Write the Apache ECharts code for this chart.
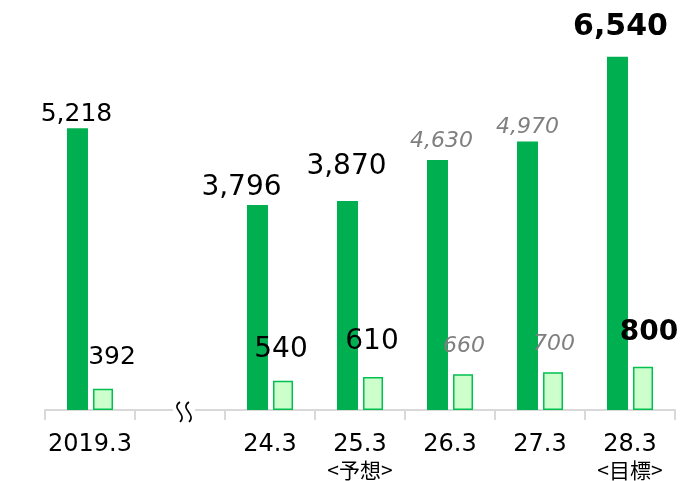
<!DOCTYPE html>
<html>
<head>
<meta charset="utf-8">
<script src="https://cdn.jsdelivr.net/npm/echarts@6/dist/echarts.min.js"></script>
<style>
html,body{margin:0;padding:0;background:#fff;}
#c{width:683px;height:481px;}
</style>
</head>
<body>
<div id="c"></div>
<script>
// ---- data ----
var categories = ['2019.3', '', '24.3', '25.3', '26.3', '27.3', '28.3'];
var subLabels = ['', '', '', '<予想>', '', '', '<目標>'];
var sales = [5218, '-', 3796, 3870, 4630, 4970, 6540];
var profit = [392, '-', 540, 610, 660, 700, 800];

// ---- label styling (kept separate from data) ----
var FONT = '"DejaVu Sans", Verdana, sans-serif';
var styleNormalS = {fontSize: 25, color: '#000', fontStyle: 'normal', fontWeight: 'normal'};
var styleNormalL = {fontSize: 28, color: '#000', fontStyle: 'normal', fontWeight: 'normal'};
var styleGray = {fontSize: 22, color: '#7f7f7f', fontStyle: 'italic', fontWeight: 'normal'};
var styleBold = {fontSize: 30, color: '#000', fontStyle: 'normal', fontWeight: 'bold'};
var styleBoldS = {fontSize: 28, color: '#000', fontStyle: 'normal', fontWeight: 'bold'};

// [style, dx, gapAboveBarTopToLabelCenter]
var salesLabelCfg = [
  [styleNormalS, -1, 14], null, [styleNormalL, -16, 17], [styleNormalL, -1, 34],
  [styleGray, 4, 19], [styleGray, 0, 14], [styleBold, 3, 30]
];
var profitLabelCfg = [
  [styleNormalS, 9, 31], null, [styleNormalL, -2, 31], [styleNormalL, -1, 35],
  [styleGray, 1, 28], [styleGray, 1, 28], [styleBoldS, 6, 34]
];

function fmt(v) {
  return String(v).replace(/\B(?=(\d{3})+(?!\d))/g, ',');
}
function buildData(values, cfg) {
  return values.map(function (v, i) {
    if (v === '-' || !cfg[i]) return {value: '-'};
    var s = cfg[i][0];
    return {
      value: v,
      label: {
        show: true,
        position: 'top',
        distance: 0,
        fontFamily: FONT,
        fontSize: s.fontSize,
        lineHeight: s.fontSize,
        color: s.color,
        fontStyle: s.fontStyle,
        fontWeight: s.fontWeight,
        offset: [cfg[i][1], -(cfg[i][2] - s.fontSize / 2)],
        formatter: function (p) { return fmt(p.value); }
      }
    };
  });
}

var chart = echarts.init(document.getElementById('c'));
var option = {
  animation: false,
  backgroundColor: '#ffffff',
  grid: {left: 45, right: 8, top: 32, bottom: 71},
  xAxis: {
    type: 'category',
    data: categories,
    axisLine: {lineStyle: {color: '#d9d9d9', width: 2}},
    axisTick: {show: true, length: 10, lineStyle: {color: '#d9d9d9', width: 2}},
    axisLabel: {
      margin: 22,
      interval: 0,
      formatter: function (val, idx) {
        var s = '{a|' + val + '}';
        if (subLabels[idx]) s += '\n{b|' + subLabels[idx] + '}';
        return s;
      },
      rich: {
        a: {fontFamily: FONT, fontSize: 24, lineHeight: 26, color: '#000'},
        b: {fontFamily: '"Noto Sans CJK JP", "DejaVu Sans", sans-serif', fontSize: 21, lineHeight: 24, color: '#000'}
      }
    }
  },
  yAxis: {
    type: 'value', min: 0, max: 7000, show: false,
    splitLine: {show: false}
  },
  series: [
    {
      type: 'bar',
      data: buildData(sales, salesLabelCfg),
      barWidth: 21,
      barGap: '24%',
      itemStyle: {color: '#00B050'}
    },
    {
      type: 'bar',
      data: buildData(profit, profitLabelCfg),
      barWidth: 20,
      itemStyle: {color: '#CCFFCC', borderColor: '#00C050', borderWidth: 1.5}
    }
  ],
  graphic: [
    {type: 'rect', shape: {x: 173, y: 403, width: 22, height: 16}, style: {fill: '#ffffff'}, z: 100},
    {type: 'bezierCurve', shape: {x1: 180, y1: 402, cpx1: 170, cpy1: 409, cpx2: 188, cpy2: 414, x2: 180, y2: 422},
      style: {stroke: '#000', lineWidth: 1.6, fill: null}, z: 101},
    {type: 'bezierCurve', shape: {x1: 189, y1: 402, cpx1: 179, cpy1: 409, cpx2: 197, cpy2: 414, x2: 189, y2: 422},
      style: {stroke: '#000', lineWidth: 1.6, fill: null}, z: 101}
  ]
};
chart.setOption(option);
</script>
</body>
</html>
